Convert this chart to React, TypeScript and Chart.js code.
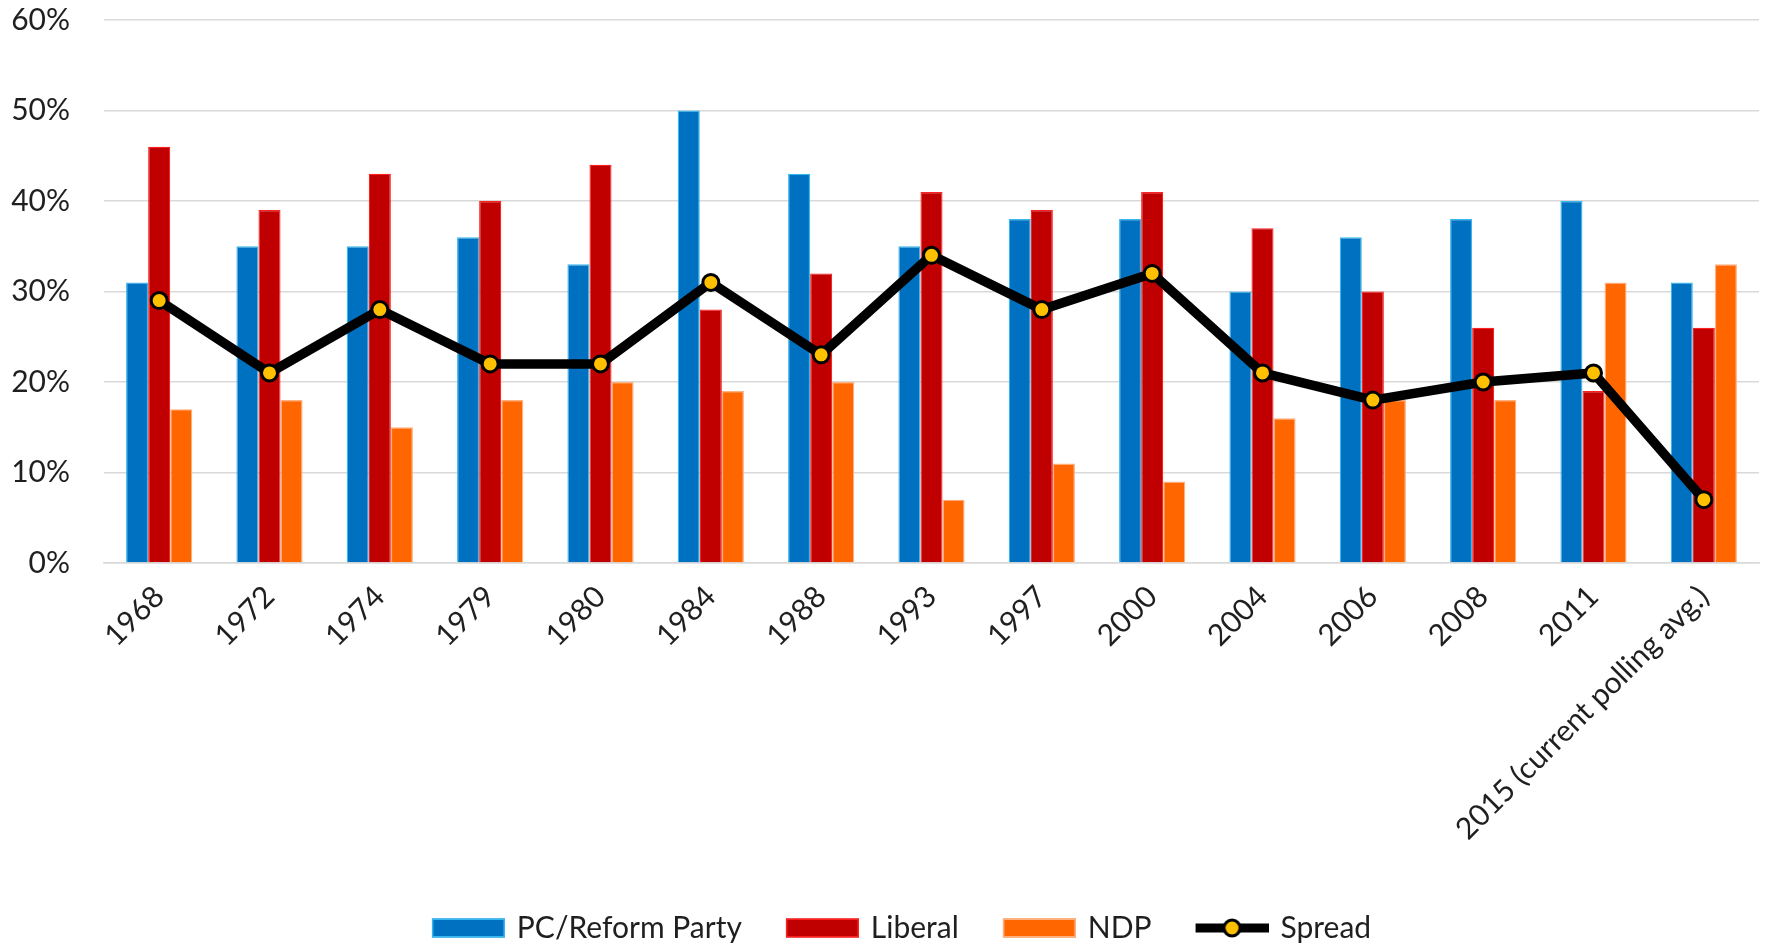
import React, { useEffect, useRef } from 'react';
import { Chart, registerables } from 'chart.js';

Chart.register(...registerables);

const categories = ['1968', '1972', '1974', '1979', '1980', '1984', '1988', '1993', '1997', '2000', '2004', '2006', '2008', '2011', '2015 (current polling avg.)'];
const pcReform = [31, 35, 35, 36, 33, 50, 43, 35, 38, 38, 30, 36, 38, 40, 31];
const liberal = [46, 39, 43, 40, 44, 28, 32, 41, 39, 41, 37, 30, 26, 19, 26];
const ndp = [17, 18, 15, 18, 20, 19, 20, 7, 11, 9, 16, 18, 18, 31, 33];
const spread = [29, 21, 28, 22, 22, 31, 23, 34, 28, 32, 21, 18, 20, 21, 7];
const seriesNames = ['PC/Reform Party', 'Liberal', 'NDP', 'Spread'];
const yMin = 0;
const yMax = 60;
const yStep = 10;

const FONT = 'Lato, "Open Sans", sans-serif';
const TEXT = '#1f1f1f';

export default function App() {
  const ref = useRef<HTMLCanvasElement>(null);

  useEffect(() => {
    document.body.style.margin = '0';
    const canvas = ref.current;
    if (!canvas) return;

    const MARGIN = 41;
    const BOXW = 73;
    const BOXH = 19;
    const ICON_W = MARGIN + BOXW;
    const ICON_H = 24;

    const makeBox = (fill: string, stroke: string) => {
      const c = document.createElement('canvas');
      c.width = ICON_W;
      c.height = ICON_H;
      const x = c.getContext('2d')!;
      const top = (ICON_H - BOXH) / 2;
      x.fillStyle = fill;
      x.fillRect(MARGIN, top, BOXW, BOXH);
      x.strokeStyle = stroke;
      x.lineWidth = 1.5;
      x.strokeRect(MARGIN + 0.75, top + 0.75, BOXW - 1.5, BOXH - 1.5);
      return c;
    };
    const makeLine = () => {
      const c = document.createElement('canvas');
      c.width = ICON_W;
      c.height = ICON_H;
      const x = c.getContext('2d')!;
      const cy = ICON_H / 2;
      x.strokeStyle = '#000000';
      x.lineWidth = 9;
      x.beginPath();
      x.moveTo(MARGIN, cy);
      x.lineTo(MARGIN + BOXW, cy);
      x.stroke();
      x.beginPath();
      x.arc(MARGIN + BOXW / 2, cy, 8, 0, Math.PI * 2);
      x.fillStyle = '#FFC000';
      x.fill();
      x.lineWidth = 3;
      x.stroke();
      return c;
    };

    const icons = [
      makeBox('#0070C0', '#35B8F0'),
      makeBox('#C00000', '#FF2020'),
      makeBox('#FF6600', '#FFB080'),
      makeLine(),
    ];

    const chart = new Chart(canvas, {
      type: 'bar',
      data: {
        labels: categories,
        datasets: [
          {
            type: 'bar',
            label: seriesNames[0],
            data: pcReform,
            backgroundColor: '#0070C0',
            borderColor: '#35B8F0',
            borderWidth: 1.2,
            order: 2,
          },
          {
            type: 'bar',
            label: seriesNames[1],
            data: liberal,
            backgroundColor: '#C00000',
            borderColor: '#FF2020',
            borderWidth: 1.2,
            order: 2,
          },
          {
            type: 'bar',
            label: seriesNames[2],
            data: ndp,
            backgroundColor: '#FF6600',
            borderColor: '#FFB080',
            borderWidth: 1.2,
            order: 2,
          },
          {
            type: 'line',
            label: seriesNames[3],
            data: spread,
            borderColor: '#000000',
            borderWidth: 9.5,
            pointRadius: 8,
            pointBackgroundColor: '#FFC000',
            pointBorderColor: '#000000',
            pointBorderWidth: 3,
            tension: 0,
            order: 1,
          } as any,
        ],
      },
      options: {
        responsive: false,
        animation: false,
        devicePixelRatio: 1,
        layout: { padding: { left: 0, right: 5, top: 20, bottom: -7 } },
        datasets: {
          bar: { categoryPercentage: 0.6, barPercentage: 1.0 },
        },
        plugins: {
          tooltip: { enabled: false },
          legend: {
            position: 'bottom',
            labels: {
              usePointStyle: true,
              pointStyleWidth: ICON_W - 6,
              boxHeight: BOXH,
              padding: 6,
              color: TEXT,
              font: { family: FONT, size: 30 },
              generateLabels: () =>
                seriesNames.map((name, i) => ({
                  text: name,
                  pointStyle: icons[i] as any,
                  fillStyle: 'transparent',
                  strokeStyle: 'transparent',
                  lineWidth: 0,
                  hidden: false,
                  datasetIndex: i,
                  fontColor: TEXT,
                })),
            },
          },
        },
        scales: {
          x: {
            grid: { display: false, drawTicks: false },
            border: { display: true, color: '#D9D9D9', width: 1.5 },
            ticks: {
              autoSkip: false,
              minRotation: 45,
              maxRotation: 45,
              padding: 16,
              color: TEXT,
              font: { family: FONT, size: 30 },
            },
            afterFit: (scale: any) => {
              scale.height = 344;
            },
          },
          y: {
            min: yMin,
            max: yMax,
            grid: { color: '#D9D9D9', lineWidth: 1.5, drawTicks: false },
            border: { display: false },
            ticks: {
              stepSize: yStep,
              padding: 34,
              color: TEXT,
              font: { family: FONT, size: 30 },
              callback: (v: any) => `${v}%`,
            },
            afterFit: (scale: any) => {
              scale.width = 104;
              scale.paddingTop = 18;
              scale.paddingBottom = 18;
            },
          },
        },
      },
    });

    return () => chart.destroy();
  }, []);

  return (
    <div style={{ width: 1770, height: 946, position: 'relative' }}>
      <canvas ref={ref} width={1770} height={946} style={{ display: 'block' }} />
    </div>
  );
}
